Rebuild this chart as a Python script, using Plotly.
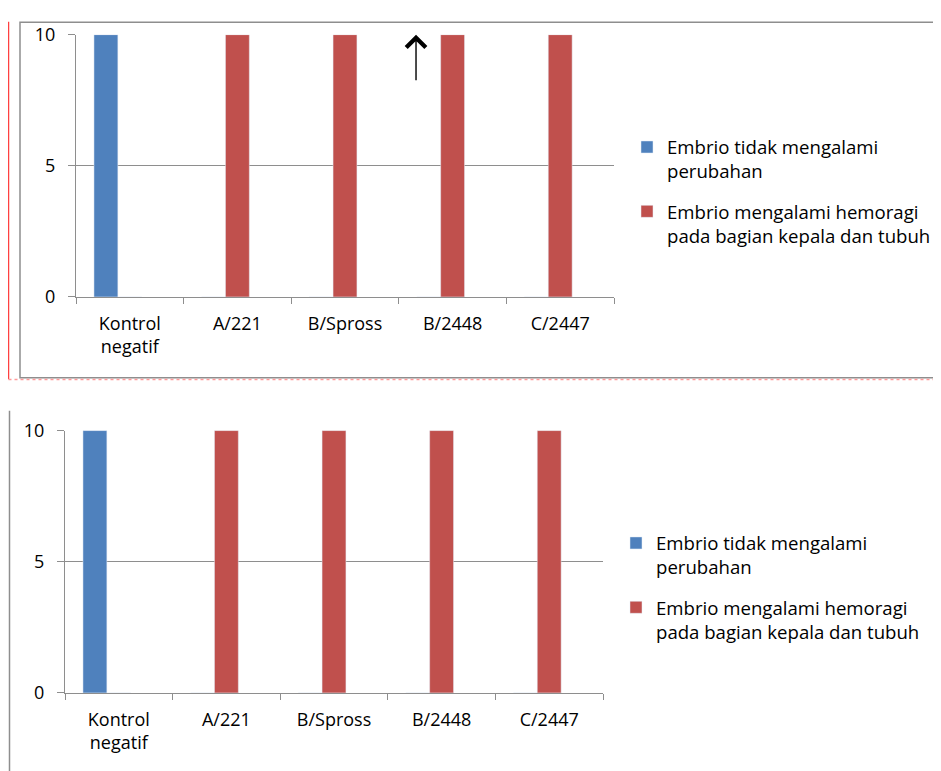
import plotly.graph_objects as go

categories = ["Kontrol<br>negatif", "A/221", "B/Spross", "B/2448", "C/2447"]
series_names = ["Embrio tidak mengalami<br>perubahan",
                "Embrio mengalami hemoragi<br>pada bagian kepala dan tubuh"]
no_change = [10, 0, 0, 0, 0]
hemorrhage = [0, 10, 10, 10, 10]
y_ticks = [0, 5, 10]

BLUE = "#4f81bd"
RED = "#c0504d"
GRAY = "#8e8e8e"
FONT = "Open Sans, Noto Sans, sans-serif"
W, H = 941, 771

# page placement as observed in the rendered picture
OX, OY, SY = 8.0, 19.3, 0.9715


def px_x(p):
    return (p - OX) / W


def px_y(p):
    return 1 - ((p - OY) / SY) / H


fig = go.Figure()

for i, (xa, ya, lg) in enumerate([("x", "y", "legend"), ("x2", "y2", "legend2")]):
    fig.add_trace(go.Bar(x=categories, y=no_change, name=series_names[0],
                         marker_color=BLUE, width=0.222, offset=-0.333,
                         xaxis=xa, yaxis=ya, legend=lg, legendgroup="a%d" % i))
    fig.add_trace(go.Bar(x=categories, y=hemorrhage, name=series_names[1],
                         marker_color=RED, width=0.222, offset=-0.111,
                         xaxis=xa, yaxis=ya, legend=lg, legendgroup="b%d" % i))

xcommon = dict(type="category", range=[-0.5, 4.5], showline=True, linecolor=GRAY,
               linewidth=1.3, ticks="outside", tickson="boundaries", ticklen=6,
               tickcolor=GRAY, tickwidth=1.3, showgrid=False, ticklabelstandoff=10,
               tickfont=dict(family=FONT, size=18, color="#000"))
ycommon = dict(range=[0, 10], tickvals=y_ticks, showline=True, linecolor=GRAY,
               linewidth=1.3, ticks="outside", ticklen=7, tickcolor=GRAY,
               tickwidth=1.3, showgrid=True, gridcolor=GRAY, gridwidth=1.3,
               zeroline=False, ticklabelstandoff=9,
               tickfont=dict(family=FONT, size=18, color="#000"))

legcommon = dict(font=dict(family=FONT, size=18.6, color="#000"), valign="top",
                 traceorder="grouped", tracegroupgap=13, bgcolor="rgba(0,0,0,0)",
                 xanchor="left", yanchor="top", itemclick=False)

fig.update_layout(
    width=W, height=H, margin=dict(l=0, r=0, t=0, b=0),
    paper_bgcolor="white", plot_bgcolor="white",
    barmode="overlay",
    xaxis=dict(domain=[px_x(76), px_x(614)], anchor="y", **xcommon),
    yaxis=dict(domain=[px_y(296), px_y(33)], anchor="x", **ycommon),
    xaxis2=dict(domain=[px_x(65), px_x(603)], anchor="y2", **xcommon),
    yaxis2=dict(domain=[px_y(693), px_y(430)], anchor="x2", **ycommon),
    legend=dict(x=px_x(627), y=px_y(127), **legcommon),
    legend2=dict(x=px_x(616), y=px_y(524), **legcommon),
    showlegend=True,
)

# frame of the upper chart and page marks
fig.add_shape(type="rect", xref="paper", yref="paper",
              x0=px_x(20), x1=px_x(970), y0=px_y(377), y1=px_y(20.5),
              line=dict(color=GRAY, width=1.5), layer="below")
fig.add_shape(type="line", xref="paper", yref="paper",
              x0=px_x(8.5), x1=px_x(8.5), y0=px_y(378.5), y1=px_y(20),
              line=dict(color="#ff4040", width=1.5))
fig.add_shape(type="line", xref="paper", yref="paper",
              x0=px_x(8.5), x1=px_x(960), y0=px_y(378.8), y1=px_y(378.8),
              line=dict(color="#ff9a9a", width=1.5, dash="dot"))
fig.add_shape(type="line", xref="paper", yref="paper",
              x0=px_x(9.5), x1=px_x(9.5), y0=px_y(780), y1=px_y(410),
              line=dict(color=GRAY, width=1.5))

# arrow in the upper chart
fig.add_annotation(x=2.66, y=10, ax=2.66, ay=8.2, xref="x", yref="y",
                   axref="x", ayref="y", showarrow=True, arrowhead=4,
                   arrowsize=2.7, arrowwidth=1.4, arrowcolor="#000", text="")

fig.write_html("out.html")
